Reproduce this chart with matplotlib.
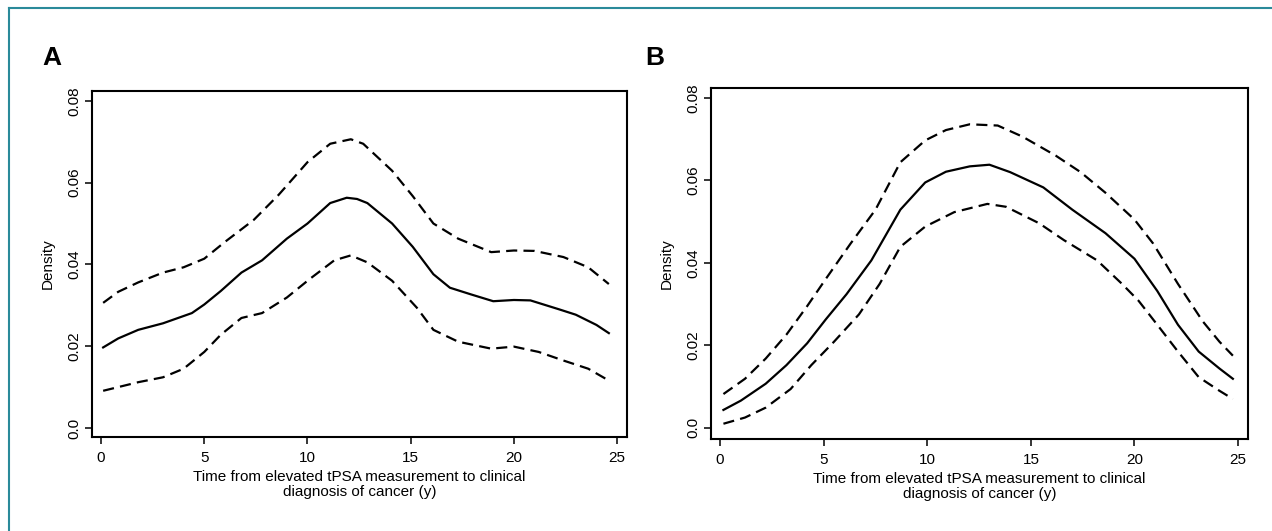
import matplotlib
matplotlib.use("Agg")
import matplotlib.pyplot as plt
from matplotlib.lines import Line2D

plt.rcParams['font.family'] = ['Liberation Sans', 'DejaVu Sans']

# Panel A: density estimate with confidence band
a_x = [0.1, 0.83, 1.8, 3.0, 4.4, 5.0, 5.8, 6.8, 7.8, 9.0, 10.0, 11.1, 11.9,
       12.4, 12.9, 14.1, 15.1, 16.1, 16.9, 17.9, 19.0, 20.0, 20.8, 22.2,
       23.0, 24.0, 24.6]
a_mid = [0.0197, 0.0219, 0.0240, 0.0256, 0.0281, 0.0302, 0.0335, 0.0380,
         0.0410, 0.0463, 0.0500, 0.0550, 0.0563, 0.0560, 0.0550, 0.0500,
         0.0443, 0.0376, 0.0343, 0.0327, 0.0310, 0.0313, 0.0312, 0.0290,
         0.0277, 0.0252, 0.0232]
a_up_x = [0.1, 0.83, 1.8, 3.0, 4.0, 5.0, 6.0, 7.4, 8.6, 10.0, 11.1, 12.1,
          12.7, 14.1, 15.1, 16.1, 17.3, 18.9, 20.0, 21.0, 22.4, 23.6, 24.6]
a_up = [0.0306, 0.0333, 0.0356, 0.0380, 0.0393, 0.0414, 0.0455, 0.0509,
        0.0570, 0.0650, 0.0695, 0.0706, 0.0695, 0.0629, 0.0567, 0.0500,
        0.0463, 0.0430, 0.0434, 0.0433, 0.0418, 0.0393, 0.0352]
a_lo_x = [0.1, 1.8, 3.0, 4.0, 5.0, 5.8, 6.8, 7.8, 9.0, 10.1, 11.3, 12.1,
          12.9, 14.1, 15.3, 16.1, 17.3, 18.9, 20.0, 21.2, 22.4, 23.6, 24.6]
a_lo = [0.0091, 0.0112, 0.0124, 0.0145, 0.0186, 0.0228, 0.0269, 0.0281,
        0.0319, 0.0364, 0.0410, 0.0422, 0.0405, 0.0360, 0.0294, 0.0240,
        0.0211, 0.0194, 0.0199, 0.0186, 0.0165, 0.0145, 0.0116]

# Panel B
b_x = [0.16, 1.0, 2.2, 3.2, 4.2, 5.1, 6.1, 7.3, 8.7, 9.9, 10.9, 12.05, 13.0,
       14.0, 15.6, 17.0, 18.6, 20.0, 21.1, 22.1, 23.1, 24.1, 24.75]
b_mid = [0.00435, 0.0066, 0.0107, 0.0152, 0.0205, 0.0263, 0.0324, 0.0406,
         0.0529, 0.0595, 0.0621, 0.0634, 0.0638, 0.0620, 0.0583, 0.0529,
         0.0472, 0.0410, 0.0332, 0.0250, 0.0185, 0.0144, 0.0119]
b_up_x = [0.16, 1.2, 2.2, 3.2, 4.2, 5.1, 6.3, 7.5, 8.7, 9.9, 10.9, 12.05,
          13.4, 14.6, 16.2, 17.4, 18.6, 20.0, 20.9, 22.1, 23.3, 24.1, 24.75]
b_up = [0.0082, 0.0119, 0.0168, 0.0226, 0.0295, 0.0361, 0.0447, 0.0529,
        0.0644, 0.0697, 0.0722, 0.0736, 0.0733, 0.0706, 0.0660, 0.0620,
        0.0570, 0.0505, 0.0447, 0.0349, 0.0258, 0.0209, 0.0175]
b_lo_x = [0.16, 1.2, 2.2, 3.4, 4.4, 5.5, 6.7, 7.7, 8.7, 9.9, 11.3, 12.9,
          13.8, 15.4, 16.6, 18.2, 19.4, 20.2, 21.1, 22.1, 23.1, 24.1, 24.75]
b_lo = [0.0010, 0.0025, 0.0049, 0.0094, 0.0152, 0.0209, 0.0275, 0.0349,
        0.0439, 0.0488, 0.0523, 0.0543, 0.0536, 0.0496, 0.0455, 0.0406,
        0.0349, 0.0308, 0.0250, 0.0185, 0.0123, 0.0090, 0.0070]

x_ticks = [0, 5, 10, 15, 20, 25]
y_ticks = [0.0, 0.02, 0.04, 0.06, 0.08]
y_tick_labels = ['0.0', '0.02', '0.04', '0.06', '0.08']
x_label = "Time from elevated tPSA measurement to clinical\ndiagnosis of cancer (y)"

W, H = 1272, 531
fig = plt.figure(figsize=(W / 100, H / 100), dpi=100)


def px_axes(left, top, right, bottom):
    return fig.add_axes([left / W, 1 - bottom / H, (right - left) / W, (bottom - top) / H])


def draw_panel(ax, x, mid, up_x, up, lo_x, lo, xlim, ylim):
    ax.plot(x, mid, color='black', lw=1.6)
    ax.plot(up_x, up, color='black', lw=1.6, dashes=(5, 2.8))
    ax.plot(lo_x, lo, color='black', lw=1.6, dashes=(5, 2.8))
    ax.set_xlim(*xlim)
    ax.set_ylim(*ylim)
    ax.set_xticks(x_ticks)
    ax.set_yticks(y_ticks)
    ax.set_yticklabels(y_tick_labels, rotation=90, va='center')
    ax.tick_params(direction='out', length=5, width=1.1, labelsize=11, colors='black')
    ax.tick_params(axis='x', pad=5)
    ax.tick_params(axis='y', pad=3)
    for s in ax.spines.values():
        s.set_linewidth(1.5)
    ax.set_xlabel(x_label, fontsize=11, labelpad=4, linespacing=1.05)
    ax.set_ylabel('Density', fontsize=11, labelpad=9)


ax_a = px_axes(92, 91, 627, 437)
draw_panel(ax_a, a_x, a_mid, a_up_x, a_up, a_lo_x, a_lo, (-0.44, 25.48), (-0.0022, 0.0824))
ax_b = px_axes(711, 88, 1248, 439)
draw_panel(ax_b, b_x, b_mid, b_up_x, b_up, b_lo_x, b_lo, (-0.44, 25.48), (-0.0027, 0.0824))

fig.text(42 / W, 1 - 65 / H, 'A', fontsize=19, fontweight='bold', va='baseline')
fig.text(645 / W, 1 - 65 / H, 'B', fontsize=19, fontweight='bold', va='baseline')

# teal frame on top and left edges
teal = '#2a8a9a'
fig.add_artist(Line2D([9 / W, 9 / W], [0, 1 - 8 / H], color=teal, lw=1.5))
fig.add_artist(Line2D([9 / W, 1271 / W], [1 - 8 / H, 1 - 8 / H], color=teal, lw=1.5))

fig.savefig('out.png', dpi=100)
